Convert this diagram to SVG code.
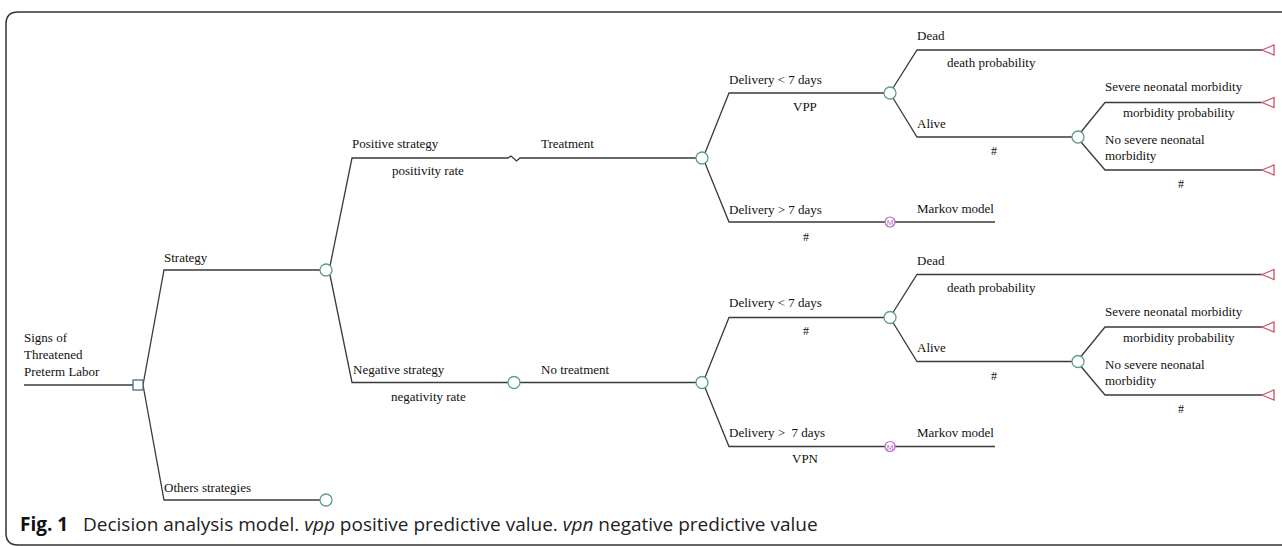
<svg xmlns="http://www.w3.org/2000/svg" width="1282" height="546" viewBox="0 0 1282 546">
<style>
.ln{fill:none;stroke:#3a3a3a;stroke-width:1.3}
.ch{fill:#fff;stroke:#5e9e86;stroke-width:1.3}
.dc{fill:#fff;stroke:#4a6a8a;stroke-width:1.3}
.tm{fill:#fff;stroke:#c85468;stroke-width:1.3}
.mk{fill:#fff;stroke:#b468c8;stroke-width:1.2}
.mt{font-family:"Liberation Sans",sans-serif;font-size:8px;fill:#b468c8;text-anchor:middle}
.t{font-family:"Liberation Serif","Times New Roman",serif;font-size:13px;fill:#111}
.h{font-family:"Liberation Serif","Times New Roman",serif;font-size:12px;fill:#111}
.cap{font-family:"Open Sans","Liberation Sans",sans-serif;font-size:19px;fill:#222}
</style>
<rect width="1282" height="546" fill="#fff"/>
<path d="M1282 12 H18 Q6 12 6 24 V533 Q6 545 18 545 H1282" stroke="#333" stroke-width="1.5" fill="none"/>
<g id="connectors">
<path class="ln" d="M24 385 H133"/>
<path class="ln" d="M143 385 L164 270 H320"/>
<path class="ln" d="M143 385 L164 500 H320"/>
<path class="ln" d="M330 266 L352 158 H508 L511 156 L516.5 161 L520 158 H696"/>
<path class="ln" d="M330 275 L352 382.5 H508"/>
<path class="ln" d="M520 382.5 H696"/>
<path class="ln" d="M705 153 L729 93 H884"/>
<path class="ln" d="M705 163 L729 222 H885"/>
<path class="ln" d="M895 222 H995"/>
<path class="ln" d="M893 88 L917 50 H1262"/>
<path class="ln" d="M893 98 L917 137 H1072"/>
<path class="ln" d="M1081 132 L1105 102.5 H1262"/>
<path class="ln" d="M1081 142 L1105 170 H1262"/>
<path class="ln" d="M705 377.5 L729 317.5 H884"/>
<path class="ln" d="M705 387.5 L729 446.5 H885"/>
<path class="ln" d="M895 446.5 H995"/>
<path class="ln" d="M893 312.5 L917 274.5 H1262"/>
<path class="ln" d="M893 322.5 L917 361.5 H1072"/>
<path class="ln" d="M1081 356.5 L1105 327 H1262"/>
<path class="ln" d="M1081 366.5 L1105 395 H1262"/>
</g>
<g id="root">
<rect class="dc" x="133" y="380" width="10" height="10"/>
<text class="t" x="24" y="342">Signs of</text>
<text class="t" x="24" y="359">Threatened</text>
<text class="t" x="24" y="376">Preterm Labor</text>
</g>
<g id="strategy">
<circle class="ch" cx="326" cy="270" r="6"/>
<text class="t" x="164" y="262">Strategy</text>
</g>
<g id="others">
<circle class="ch" cx="326" cy="500" r="6"/>
<text class="t" x="164" y="492">Others strategies</text>
</g>
<g id="treatment">
<circle class="ch" cx="702" cy="158" r="6"/>
<text class="t" x="352" y="148">Positive strategy</text>
<text class="t" x="392" y="175">positivity rate</text>
<text class="t" x="541" y="148">Treatment</text>
</g>
<g id="negative">
<circle class="ch" cx="514" cy="382.5" r="6"/>
<text class="t" x="353" y="374">Negative strategy</text>
<text class="t" x="391" y="401">negativity rate</text>
</g>
<g id="notreatment">
<circle class="ch" cx="702" cy="382.5" r="6"/>
<text class="t" x="541" y="374">No treatment</text>
</g>
<g id="delivery-lt-pos">
<circle class="ch" cx="890" cy="93" r="6"/>
<text class="t" x="729" y="84">Delivery &lt; 7 days</text>
<text class="t" x="793" y="111">VPP</text>
</g>
<g id="delivery-gt-pos">
<circle class="mk" cx="890" cy="222" r="5"/>
<text class="mt" x="890" y="225">M</text>
<text class="t" x="729" y="214">Delivery &gt; 7 days</text>
<text class="h" x="803" y="241">#</text>
<text class="t" x="917" y="213">Markov model</text>
</g>
<g id="dead-pos">
<polygon class="tm" points="1262,50 1274,45 1274,55"/>
<text class="t" x="917" y="40">Dead</text>
<text class="t" x="947" y="67">death probability</text>
</g>
<g id="alive-pos">
<circle class="ch" cx="1078" cy="137" r="6"/>
<text class="t" x="917" y="128">Alive</text>
<text class="h" x="991" y="155">#</text>
</g>
<g id="severe-pos">
<polygon class="tm" points="1262,102.5 1274,97.5 1274,107.5"/>
<text class="t" x="1105" y="91">Severe neonatal morbidity</text>
<text class="t" x="1123" y="117">morbidity probability</text>
</g>
<g id="nosevere-pos">
<polygon class="tm" points="1262,170 1274,165 1274,175"/>
<text class="t" x="1105" y="144">No severe neonatal</text>
<text class="t" x="1105" y="160">morbidity</text>
<text class="h" x="1178" y="188">#</text>
</g>
<g id="delivery-lt-neg">
<circle class="ch" cx="890" cy="317.5" r="6"/>
<text class="t" x="729" y="307">Delivery &lt; 7 days</text>
<text class="h" x="803" y="335">#</text>
</g>
<g id="delivery-gt-neg">
<circle class="mk" cx="890" cy="446.5" r="5"/>
<text class="mt" x="890" y="449.5">M</text>
<text class="t" x="729" y="437" xml:space="preserve">Delivery &gt;  7 days</text>
<text class="t" x="792" y="463">VPN</text>
<text class="t" x="917" y="437">Markov model</text>
</g>
<g id="dead-neg">
<polygon class="tm" points="1262,274.5 1274,269.5 1274,279.5"/>
<text class="t" x="917" y="265">Dead</text>
<text class="t" x="947" y="292">death probability</text>
</g>
<g id="alive-neg">
<circle class="ch" cx="1078" cy="361.5" r="6"/>
<text class="t" x="917" y="352">Alive</text>
<text class="h" x="991" y="380">#</text>
</g>
<g id="severe-neg">
<polygon class="tm" points="1262,327 1274,322 1274,332"/>
<text class="t" x="1105" y="316">Severe neonatal morbidity</text>
<text class="t" x="1123" y="342">morbidity probability</text>
</g>
<g id="nosevere-neg">
<polygon class="tm" points="1262,395 1274,390 1274,400"/>
<text class="t" x="1105" y="369">No severe neonatal</text>
<text class="t" x="1105" y="385">morbidity</text>
<text class="h" x="1178" y="413">#</text>
</g>
<g id="caption">
<text class="cap" x="20" y="531"><tspan font-weight="bold" fill="#111">Fig. 1</tspan><tspan x="83">Decision analysis model. <tspan font-style="italic">vpp</tspan> positive predictive value. <tspan font-style="italic">vpn</tspan> negative predictive value</tspan></text>
</g>
</svg>
